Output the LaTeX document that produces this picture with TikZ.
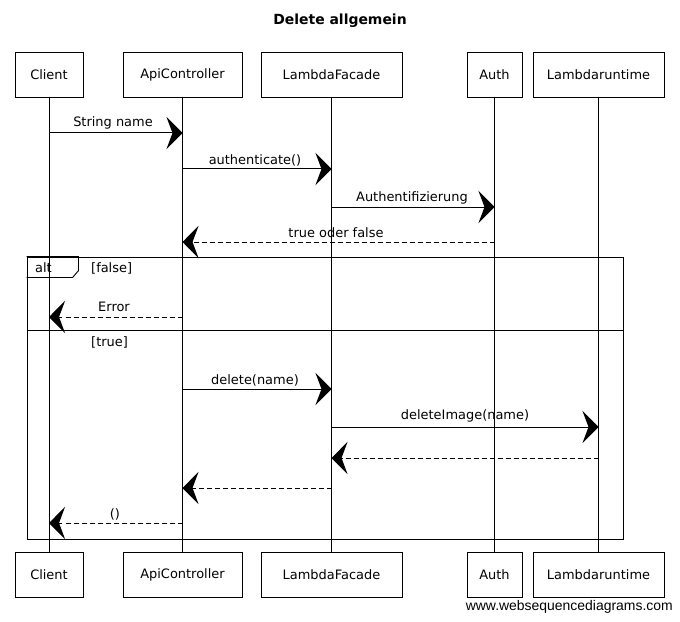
\documentclass[tikz,border=0pt]{standalone}
\usepackage{fontspec}
\setmainfont{DejaVu Sans}
\newfontfamily\wmfont{Liberation Sans}
\usetikzlibrary{arrows.meta}
\begin{document}
\begin{tikzpicture}[x=1bp,y=-1bp,
  actor/.style={draw,line width=0.8bp,minimum height=45bp,inner sep=0,font=\fontsize{13}{15}\selectfont},
  life/.style={line width=0.7bp},
  msg/.style={line width=1bp,-{Stealth[length=16bp,width=32bp,inset=6bp]}},
  ret/.style={msg,dash pattern=on 5bp off 3bp},
  lbl/.style={font=\fontsize{13}{15}\selectfont,inner sep=0},
  frame/.style={draw,line width=0.9bp}]
\useasboundingbox (0,0) rectangle (680,622);
\node[font=\bfseries\fontsize{14}{16}\selectfont] (title) at (340,21) {Delete allgemein};
% top actors
\node[actor,minimum width=68bp] (c1) at (49,74.5) {Client};
\node[actor,minimum width=119bp] (a1) at (182.5,74.5) {ApiController};
\node[actor,minimum width=141bp] (l1) at (331.5,74.5) {LambdaFacade};
\node[actor,minimum width=55bp] (u1) at (494.5,74.5) {Auth};
\node[actor,minimum width=131bp] (r1) at (598.5,74.5) {Lambdaruntime};
% bottom actors
\node[actor,minimum width=68bp] (c2) at (49,574.5) {Client};
\node[actor,minimum width=119bp] (a2) at (182.5,574.5) {ApiController};
\node[actor,minimum width=141bp] (l2) at (331.5,574.5) {LambdaFacade};
\node[actor,minimum width=55bp] (u2) at (494.5,574.5) {Auth};
\node[actor,minimum width=131bp] (r2) at (598.5,574.5) {Lambdaruntime};
% lifelines
\draw[life] (c1) -- (c2);
\draw[life] (a1) -- (a2);
\draw[life] (l1) -- (l2);
\draw[life] (u1) -- (u2);
\draw[life] (r1) -- (r2);
% alt frame
\node[frame,minimum width=596bp,minimum height=282bp,inner sep=0] (alt) at (325,398) {};
\draw[frame] (alt.north west) -- ++(52,0) -- ++(0,14) -- ++(-6,7) -- ++(-46,0);
\draw[frame] (alt.west |- 0,330) -- (alt.east |- 0,330);
\node[lbl,anchor=west] (altl) at (35,268) {alt};
\node[lbl,anchor=west] (g1) at (91,268) {[false]};
\node[lbl,anchor=west] (g2) at (91,342) {[true]};
% messages
\draw[msg] (c1 |- 0,133) -- (a1 |- 0,133);
\node[lbl] (m1) at (113,123) {String name};
\draw[msg] (a1 |- 0,169) -- (l1 |- 0,169);
\node[lbl] (m2) at (255,160) {authenticate()};
\draw[msg] (l1 |- 0,207) -- (u1 |- 0,207);
\node[lbl] (m3) at (412,198) {Authentifizierung};
\draw[ret] (u1 |- 0,242) -- (a1 |- 0,242);
\node[lbl] (m4) at (336,233) {true oder false};
\draw[ret] (a1 |- 0,317) -- (c1 |- 0,317);
\node[lbl] (m5) at (114,307) {Error};
\draw[msg] (a1 |- 0,389) -- (l1 |- 0,389);
\node[lbl] (m6) at (255,380) {delete(name)};
\draw[msg] (l1 |- 0,427) -- (r1 |- 0,427);
\node[lbl] (m7) at (465,416) {deleteImage(name)};
\draw[ret] (r1 |- 0,458) -- (l1 |- 0,458);
\draw[ret] (l1 |- 0,488) -- (a1 |- 0,488);
\draw[ret] (a1 |- 0,523) -- (c1 |- 0,523);
\node[lbl] (m8) at (115,514) {()};
% watermark
\node[anchor=east,inner sep=0,font=\wmfont\fontsize{14}{16}\selectfont] (wm) at (673,607) {www.websequencediagrams.com};
\end{tikzpicture}
\end{document}
